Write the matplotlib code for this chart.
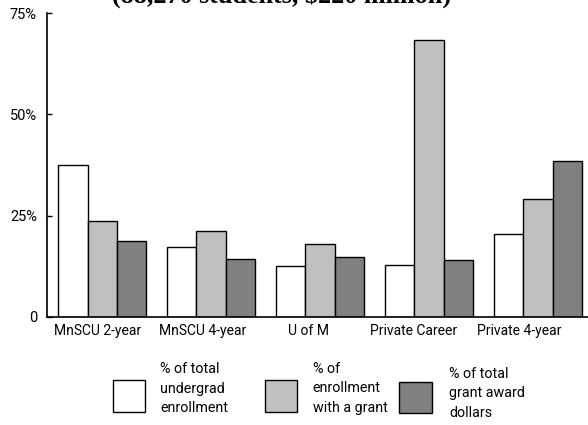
import matplotlib.pyplot as plt
from matplotlib.patches import Rectangle
import numpy as np

# data
sectors = ['MnSCU 2-year', 'MnSCU 4-year', 'U of M', 'Private Career', 'Private 4-year']
pct_enrollment = [37.5, 17.3, 12.5, 12.7, 20.5]
pct_with_grant = [23.7, 21.2, 18.0, 68.5, 29.2]
pct_grant_dollars = [18.8, 14.3, 14.7, 13.9, 38.5]
series_labels = ['% of total\nundergrad\nenrollment',
                 '% of\nenrollment\nwith a grant',
                 '% of total\ngrant award\ndollars']
series_colors = ['#FFFFFF', '#C0C0C0', '#808080']
title = '(88,270 students, $220 million)'
ytick_vals = [0, 25, 50, 75]
ytick_labels = ['0', '25%', '50%', '75%']

plt.rcParams['font.family'] = ['Roboto', 'DejaVu Sans']
plt.rcParams['font.size'] = 10

fig = plt.figure(figsize=(5.88, 4.25), dpi=100)
ax = fig.add_axes([0.0794, 0.2548, 0.9206, 0.7139])

x = np.arange(len(sectors))
w = 0.27
for k, vals in enumerate([pct_enrollment, pct_with_grant, pct_grant_dollars]):
    ax.bar(x + (k - 1) * w, vals, width=w, color=series_colors[k],
           edgecolor='black', linewidth=1.0, zorder=2)

ax.set_xlim(-0.51, 4.46)
ax.set_ylim(0, 75)
ax.set_yticks(ytick_vals)
ax.set_yticklabels(ytick_labels)
ax.tick_params(axis='y', direction='in', length=3.6, width=1, pad=7, labelsize=10.5)
# category labels sit slightly left of the bar groups in the original
ax.set_xticks(0.969 * x - 0.046)
ax.set_xticklabels(sectors)
ax.tick_params(axis='x', length=0, pad=5.5, labelsize=10)
for s in ['top', 'right']:
    ax.spines[s].set_visible(False)
ax.spines['left'].set_linewidth(1.2)
ax.spines['bottom'].set_linewidth(1.2)

# title, cut off by the top edge in the original
fig.text(282 / 588, 1 - 3 / 425, title, ha='center', va='baseline',
         family=['Liberation Serif', 'DejaVu Serif'], fontweight='bold', fontsize=18.8)

# legend drawn by hand: boxes and three-line labels
box_x = [112.7, 265, 399.3]
box_y = [380, 380, 381.7]
text_x = [160, 312.7, 449.3]
text_y = [362, 362, 367]
for k in range(3):
    fig.add_artist(Rectangle((box_x[k] / 588, 1 - (box_y[k] + 31.7) / 425),
                             32.3 / 588, 31.7 / 425, transform=fig.transFigure,
                             facecolor=series_colors[k], edgecolor='black', linewidth=1.0))
    fig.text(text_x[k] / 588, 1 - text_y[k] / 425, series_labels[k], ha='left', va='top',
             fontsize=10.3, linespacing=1.5)

plt.savefig('out.png', dpi=100)
